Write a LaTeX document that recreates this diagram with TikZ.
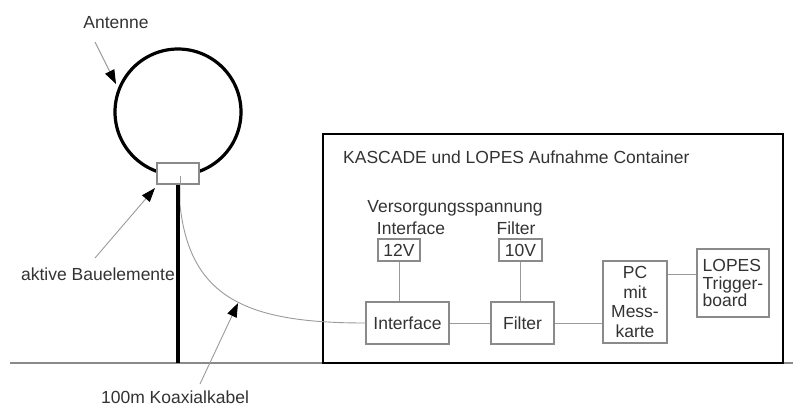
\documentclass[tikz,border=0pt]{standalone}
\usepackage{fontspec}
\setmainfont{Liberation Sans}
\usetikzlibrary{arrows.meta}
\definecolor{txt}{HTML}{333333}
\definecolor{boxc}{HTML}{8A8A8A}
\definecolor{linec}{HTML}{9A9A9A}
\begin{document}
\begin{tikzpicture}[x=1pt,y=-1pt,
  lbl/.style={text=txt,font=\fontsize{17.5}{19}\selectfont,inner sep=0pt},
  blk/.style={draw=boxc,line width=1.1pt,fill=white,text=txt,font=\fontsize{17.5}{19}\selectfont,inner sep=0pt,align=center},
  conn/.style={draw=linec,line width=0.9pt},
  pointer/.style={draw=linec,line width=0.9pt,-{Triangle[length=14pt,width=10pt,color=black]}}]
\useasboundingbox (0,0) rectangle (793,408);
% ground
\coordinate (gl) at (10,363);
\coordinate (gr) at (793,363);
\draw[draw=boxc,line width=1.3pt] (gl) -- (gr);
% container
\node[draw=black,line width=2.4pt,minimum width=460pt,minimum height=229pt,inner sep=0pt] (cont) at (553,248.5) {};
\node[lbl,anchor=west] (title) at (343,157) {KASCADE und LOPES Aufnahme Container};
% antenna loop
\node[draw=black,line width=3.2pt,circle,minimum size=126pt,inner sep=0pt] (loop) at (178,112) {};
% cable (behind mast)
\coordinate (cs) at (180,176);
\coordinate (cm) at (180,205);
% blocks
\node[blk,minimum width=83pt,minimum height=42pt] (iface) at (407.5,323) {Interface};
\draw[draw=linec,line width=0.9pt] (cs) -- (cm) .. controls (190,300) and (250,323) .. (iface.west);
% mast
\coordinate (mb) at (178,363);
\node[blk,minimum width=42pt,minimum height=21pt] (bau) at (178,173.5) {};
\draw[black,line width=3.6pt] (bau.south) -- (mb);
\draw[conn] (cs) -- (bau.south -| cs);
\node[blk,minimum width=63pt,minimum height=42pt] (filt) at (522.5,323) {Filter};
\node[blk,minimum width=42pt,minimum height=22pt] (v12) at (399,250) {12V};
\node[blk,minimum width=43pt,minimum height=22pt] (v10) at (520.5,250) {10V};
\node[blk,minimum width=64pt,minimum height=82pt,font=\fontsize{17.5}{19.5}\selectfont] (pc) at (635,302) {PC\\mit\\Mess-\\karte};
\node[blk,minimum width=72pt,minimum height=68pt,align=left,font=\fontsize{17.5}{17.5}\selectfont] (lopes) at (733,283) {LOPES\\Trigger-\\board};
\node[lbl] (vers) at (455,208) {Versorgungsspannung};
\node[lbl] (ilab) at (411,228) {Interface};
\node[lbl] (flab) at (516,228) {Filter};
% connections
\draw[conn] (v12.south) -- (v12.south |- iface.north);
\draw[conn] (v10.south) -- (v10.south |- filt.north);
\draw[conn] (iface.east) -- (filt.west);
\draw[conn] (filt.east) -- (filt.east -| pc.west);
\coordinate (pl) at (0,274);
\draw[conn] (pc.east |- pl) -- (lopes.west |- pl);
% labels and pointers
\node[lbl] (ant) at (116,23) {Antenne};
\coordinate (antt) at (116,84);
\draw[pointer] (95,42) -- (antt);
\node[lbl] (akt) at (98,274) {aktive Bauelemente};
\coordinate (aktt) at (155,188);
\draw[pointer] (95,258) -- (aktt);
\node[lbl] (koax) at (175,397) {100m Koaxialkabel};
\coordinate (koaxt) at (238,303);
\draw[pointer] (200,384) -- (koaxt);
\end{tikzpicture}
\end{document}
